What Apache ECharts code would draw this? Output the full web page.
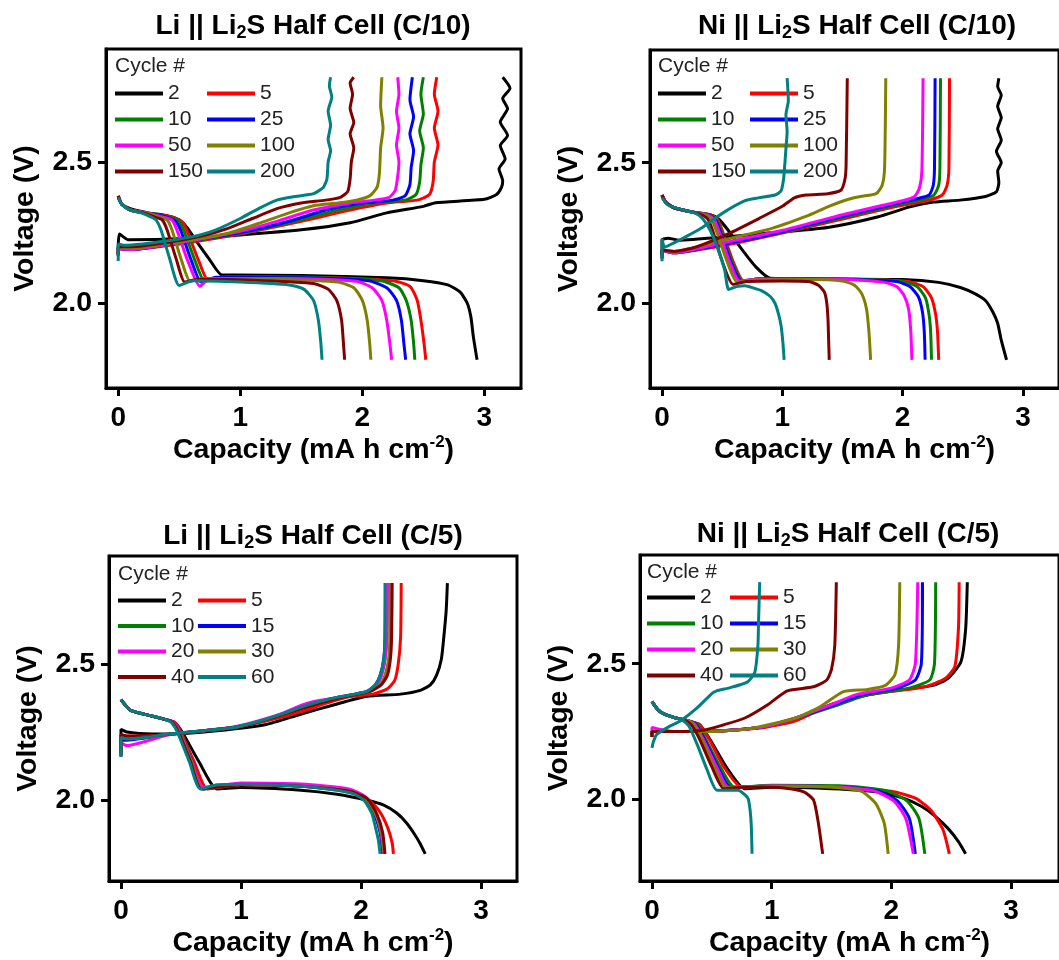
<!DOCTYPE html>
<html>
<head>
<meta charset="utf-8">
<script src="https://cdn.jsdelivr.net/npm/echarts@6/dist/echarts.min.js"></script>
<style>
  html, body { margin: 0; padding: 0; background: #fff; }
  #chart { width: 1059px; height: 960px; }
</style>
</head>
<body>
<div id="chart"></div>
<script>
// cycle colours, same order in every panel
const colors = ['#000000', '#ff0000', '#008000', '#0000ff', '#ff00ff', '#808000', '#800000', '#008080']
const xTicks = [0, 1, 2, 3]
const yTicks = [2.0, 2.5]

const cyclesC10 = ['2', '5', '10', '25', '50', '100', '150', '200']
const cyclesC5 = ['2', '5', '10', '15', '20', '30', '40', '60']

const panelTitles = [
  'Li || Li{sub|2}S Half Cell (C/10)',
  'Ni || Li{sub|2}S Half Cell (C/10)',
  'Li || Li{sub|2}S Half Cell (C/5)',
  'Ni || Li{sub|2}S Half Cell (C/5)'
]

// Li || Li2S, C/10  — [capacity, voltage]
const liC10Discharge = [
  [[0,2.375],[0.03,2.35],[0.1,2.335],[0.25,2.32],[0.4,2.31],[0.5,2.295],[0.56,2.27],[0.64,2.22],[0.74,2.16],[0.85,2.1],[0.95,2.1],[1.5,2.098],[2.2,2.09],[2.5,2.08],[2.7,2.065],[2.8,2.04],[2.86,2.0],[2.89,1.95],[2.91,1.88],[2.94,1.8]],
  [[0,2.38],[0.03,2.35],[0.1,2.33],[0.25,2.318],[0.45,2.305],[0.53,2.285],[0.57,2.25],[0.66,2.15],[0.74,2.08],[0.9,2.093],[1.6,2.092],[2.25,2.08],[2.39,2.06],[2.45,2.01],[2.48,1.94],[2.505,1.86],[2.52,1.8]],
  [[0,2.38],[0.03,2.35],[0.1,2.33],[0.25,2.318],[0.42,2.305],[0.5,2.29],[0.54,2.255],[0.63,2.15],[0.71,2.078],[0.85,2.093],[1.5,2.092],[2.15,2.08],[2.3,2.055],[2.36,2.01],[2.4,1.94],[2.42,1.86],[2.43,1.8]],
  [[0,2.38],[0.03,2.35],[0.1,2.33],[0.25,2.318],[0.4,2.305],[0.47,2.29],[0.51,2.26],[0.6,2.15],[0.68,2.075],[0.8,2.092],[1.5,2.09],[2.05,2.08],[2.2,2.055],[2.28,2.01],[2.32,1.94],[2.34,1.86],[2.355,1.8]],
  [[0,2.38],[0.03,2.35],[0.1,2.33],[0.25,2.318],[0.37,2.305],[0.44,2.295],[0.48,2.26],[0.57,2.15],[0.67,2.06],[0.75,2.088],[1.4,2.088],[1.95,2.078],[2.08,2.055],[2.16,2.01],[2.2,1.94],[2.225,1.86],[2.24,1.8]],
  [[0,2.38],[0.03,2.35],[0.1,2.33],[0.25,2.318],[0.34,2.305],[0.4,2.295],[0.44,2.26],[0.52,2.15],[0.59,2.078],[0.7,2.088],[1.3,2.085],[1.8,2.075],[1.93,2.055],[2.0,2.01],[2.04,1.94],[2.06,1.86],[2.07,1.8]],
  [[0,2.38],[0.03,2.35],[0.1,2.33],[0.22,2.318],[0.3,2.305],[0.36,2.295],[0.4,2.26],[0.48,2.15],[0.545,2.075],[0.65,2.085],[1.2,2.08],[1.6,2.07],[1.72,2.05],[1.79,2.01],[1.83,1.94],[1.845,1.86],[1.855,1.8]],
  [[0,2.375],[0.03,2.35],[0.1,2.33],[0.2,2.318],[0.27,2.305],[0.31,2.295],[0.35,2.26],[0.42,2.16],[0.5,2.063],[0.61,2.08],[1.0,2.075],[1.4,2.065],[1.52,2.05],[1.6,2.01],[1.64,1.94],[1.66,1.86],[1.67,1.8]]
]
const liC10Charge = [
  [[0,2.19],[0.01,2.245],[0.08,2.225],[0.5,2.228],[1.0,2.242],[1.5,2.26],[1.9,2.285],[2.2,2.32],[2.5,2.343],[2.6,2.356],[3.0,2.368],[3.1,2.385],[3.14,2.41],[3.15,2.433],[3.12,2.475],[3.17,2.511],[3.13,2.558],[3.19,2.594],[3.13,2.642],[3.19,2.689],[3.15,2.725],[3.21,2.761],[3.15,2.8]],
  [[0,2.17],[0,2.195],[0.1,2.19],[0.5,2.21],[1.0,2.245],[1.5,2.29],[1.9,2.33],[2.2,2.355],[2.45,2.365],[2.55,2.385],[2.58,2.43],[2.59,2.5],[2.62,2.56],[2.59,2.62],[2.62,2.68],[2.59,2.74],[2.61,2.8]],
  [[0,2.17],[0,2.195],[0.1,2.19],[0.5,2.213],[1.0,2.248],[1.4,2.285],[1.8,2.33],[2.1,2.355],[2.35,2.365],[2.44,2.385],[2.47,2.43],[2.48,2.49],[2.5,2.55],[2.47,2.61],[2.5,2.67],[2.48,2.74],[2.5,2.8]],
  [[0,2.17],[0,2.195],[0.1,2.19],[0.5,2.215],[1.0,2.25],[1.4,2.29],[1.7,2.33],[2.0,2.355],[2.25,2.365],[2.35,2.38],[2.39,2.42],[2.4,2.48],[2.42,2.54],[2.39,2.6],[2.42,2.66],[2.39,2.72],[2.41,2.8]],
  [[0,2.17],[0,2.195],[0.1,2.19],[0.5,2.215],[1.0,2.255],[1.3,2.29],[1.6,2.33],[1.9,2.355],[2.1,2.365],[2.22,2.375],[2.27,2.4],[2.29,2.45],[2.3,2.5],[2.28,2.56],[2.3,2.62],[2.28,2.68],[2.3,2.74],[2.29,2.8]],
  [[0,2.17],[0,2.2],[0.1,2.195],[0.5,2.218],[0.9,2.248],[1.2,2.29],[1.4,2.32],[1.6,2.345],[1.8,2.355],[1.95,2.365],[2.06,2.38],[2.12,2.41],[2.14,2.46],[2.15,2.55],[2.17,2.62],[2.15,2.7],[2.16,2.8]],
  [[0,2.17],[0,2.2],[0.1,2.2],[0.4,2.215],[0.7,2.24],[0.9,2.265],[1.1,2.3],[1.3,2.335],[1.5,2.355],[1.7,2.365],[1.82,2.375],[1.88,2.395],[1.9,2.44],[1.91,2.5],[1.93,2.55],[1.9,2.6],[1.93,2.64],[1.9,2.69],[1.92,2.74],[1.9,2.78],[1.93,2.8]],
  [[0,2.15],[0,2.21],[0.05,2.205],[0.2,2.21],[0.39,2.22],[0.6,2.235],[0.8,2.26],[1.0,2.3],[1.15,2.335],[1.3,2.365],[1.45,2.378],[1.6,2.388],[1.68,2.41],[1.71,2.44],[1.72,2.5],[1.74,2.54],[1.72,2.58],[1.74,2.63],[1.72,2.68],[1.75,2.73],[1.73,2.77],[1.74,2.8]]
]

// Ni || Li2S, C/10
const niC10Discharge = [
  [[0,2.385],[0.03,2.36],[0.1,2.34],[0.25,2.325],[0.4,2.315],[0.47,2.3],[0.55,2.26],[0.65,2.2],[0.78,2.13],[0.9,2.09],[1.2,2.088],[2.0,2.085],[2.3,2.075],[2.48,2.057],[2.6,2.035],[2.69,2.01],[2.75,1.97],[2.79,1.93],[2.82,1.87],[2.864,1.8]],
  [[0,2.385],[0.03,2.36],[0.1,2.34],[0.25,2.325],[0.4,2.315],[0.46,2.3],[0.5,2.26],[0.59,2.15],[0.68,2.08],[0.8,2.087],[1.6,2.086],[2.05,2.078],[2.17,2.06],[2.24,2.02],[2.275,1.96],[2.29,1.9],[2.3,1.8]],
  [[0,2.385],[0.03,2.36],[0.1,2.34],[0.25,2.325],[0.39,2.315],[0.45,2.3],[0.49,2.26],[0.58,2.15],[0.67,2.08],[0.8,2.087],[1.6,2.086],[2.0,2.078],[2.12,2.06],[2.19,2.02],[2.22,1.96],[2.233,1.9],[2.24,1.8]],
  [[0,2.385],[0.03,2.36],[0.1,2.34],[0.25,2.325],[0.38,2.315],[0.44,2.3],[0.48,2.26],[0.57,2.15],[0.66,2.08],[0.8,2.087],[1.5,2.086],[1.95,2.078],[2.06,2.06],[2.13,2.025],[2.165,1.97],[2.18,1.9],[2.187,1.8]],
  [[0,2.385],[0.03,2.36],[0.1,2.34],[0.25,2.325],[0.37,2.315],[0.43,2.3],[0.47,2.26],[0.56,2.15],[0.645,2.08],[0.8,2.086],[1.5,2.085],[1.85,2.075],[1.95,2.06],[2.01,2.03],[2.05,1.98],[2.068,1.9],[2.077,1.8]],
  [[0,2.385],[0.03,2.36],[0.1,2.34],[0.25,2.325],[0.35,2.315],[0.41,2.3],[0.45,2.26],[0.54,2.15],[0.625,2.076],[0.75,2.083],[1.2,2.085],[1.5,2.08],[1.6,2.065],[1.66,2.035],[1.7,1.98],[1.72,1.9],[1.734,1.8]],
  [[0,2.385],[0.03,2.36],[0.1,2.34],[0.25,2.325],[0.33,2.315],[0.38,2.3],[0.42,2.26],[0.5,2.15],[0.59,2.068],[0.7,2.078],[1.0,2.08],[1.22,2.078],[1.3,2.065],[1.35,2.04],[1.37,2.0],[1.38,1.94],[1.385,1.87],[1.39,1.8]],
  [[0,2.375],[0.05,2.35],[0.15,2.335],[0.28,2.32],[0.34,2.3],[0.4,2.26],[0.46,2.2],[0.52,2.12],[0.554,2.05],[0.62,2.06],[0.69,2.063],[0.76,2.055],[0.83,2.045],[0.9,2.025],[0.94,2.0],[0.97,1.96],[0.99,1.92],[1.005,1.86],[1.015,1.8]]
]
const niC10Charge = [
  [[0,2.18],[0,2.225],[0.05,2.232],[0.14,2.225],[0.5,2.235],[0.83,2.248],[1.377,2.27],[1.79,2.307],[2.06,2.343],[2.255,2.36],[2.475,2.367],[2.69,2.38],[2.78,2.397],[2.8,2.43],[2.79,2.47],[2.82,2.5],[2.78,2.54],[2.82,2.58],[2.79,2.62],[2.82,2.66],[2.79,2.7],[2.82,2.74],[2.79,2.77],[2.8,2.8]],
  [[0,2.17],[0,2.19],[0.1,2.18],[0.5,2.205],[1.0,2.25],[1.5,2.3],[1.9,2.34],[2.2,2.365],[2.33,2.385],[2.37,2.42],[2.385,2.48],[2.39,2.8]],
  [[0,2.17],[0,2.19],[0.1,2.18],[0.5,2.21],[1.0,2.253],[1.5,2.305],[1.9,2.345],[2.15,2.368],[2.26,2.385],[2.3,2.42],[2.31,2.48],[2.315,2.8]],
  [[0,2.16],[0,2.19],[0.1,2.18],[0.5,2.21],[1.0,2.255],[1.5,2.31],[1.9,2.35],[2.1,2.37],[2.22,2.385],[2.255,2.42],[2.265,2.48],[2.27,2.8]],
  [[0,2.17],[0,2.19],[0.1,2.18],[0.5,2.215],[1.0,2.26],[1.5,2.315],[1.8,2.345],[2.0,2.365],[2.1,2.38],[2.14,2.41],[2.16,2.47],[2.17,2.8]],
  [[0,2.17],[0,2.19],[0.1,2.185],[0.5,2.225],[0.9,2.265],[1.2,2.31],[1.377,2.343],[1.55,2.37],[1.65,2.38],[1.78,2.39],[1.83,2.42],[1.85,2.48],[1.86,2.8]],
  [[0,2.16],[0,2.19],[0.1,2.185],[0.28,2.2],[0.554,2.248],[0.83,2.307],[1.0,2.345],[1.1,2.375],[1.2,2.385],[1.377,2.39],[1.487,2.402],[1.52,2.44],[1.53,2.49],[1.54,2.8]],
  [[0,2.15],[0,2.23],[0.02,2.2],[0.05,2.205],[0.14,2.224],[0.335,2.27],[0.5,2.32],[0.69,2.365],[0.8,2.375],[0.94,2.385],[0.99,2.4],[1.01,2.44],[1.02,2.49],[1.03,2.55],[1.04,2.61],[1.03,2.67],[1.05,2.72],[1.04,2.8]]
]

// Li || Li2S, C/5
const liC5Discharge = [
  [[0,2.37],[0.08,2.33],[0.25,2.31],[0.38,2.295],[0.45,2.285],[0.51,2.25],[0.65,2.14],[0.8,2.04],[1.0,2.045],[1.5,2.035],[1.8,2.02],[2.05,1.998],[2.19,1.98],[2.3,1.95],[2.38,1.914],[2.45,1.87],[2.49,1.84],[2.535,1.8]],
  [[0,2.37],[0.08,2.33],[0.25,2.31],[0.38,2.295],[0.45,2.285],[0.5,2.25],[0.61,2.14],[0.72,2.04],[1.0,2.055],[1.5,2.05],[1.9,2.03],[2.05,2.005],[2.15,1.96],[2.22,1.9],[2.26,1.84],[2.27,1.8]],
  [[0,2.37],[0.08,2.33],[0.25,2.31],[0.38,2.295],[0.44,2.285],[0.495,2.25],[0.595,2.14],[0.69,2.04],[1.0,2.058],[1.5,2.052],[1.9,2.035],[2.03,2.005],[2.11,1.95],[2.16,1.88],[2.18,1.8]],
  [[0,2.37],[0.08,2.33],[0.25,2.31],[0.38,2.295],[0.44,2.285],[0.49,2.25],[0.59,2.14],[0.68,2.04],[1.0,2.058],[1.5,2.052],[1.9,2.035],[2.03,2.005],[2.11,1.95],[2.16,1.88],[2.185,1.8]],
  [[0,2.37],[0.08,2.33],[0.25,2.31],[0.38,2.295],[0.44,2.285],[0.49,2.25],[0.59,2.14],[0.685,2.045],[1.0,2.062],[1.5,2.058],[1.9,2.04],[2.04,2.01],[2.12,1.95],[2.165,1.88],[2.19,1.8]],
  [[0,2.37],[0.08,2.33],[0.25,2.31],[0.38,2.295],[0.43,2.285],[0.485,2.25],[0.585,2.14],[0.675,2.04],[1.0,2.056],[1.5,2.05],[1.9,2.033],[2.04,2.005],[2.12,1.95],[2.17,1.88],[2.195,1.8]],
  [[0,2.37],[0.08,2.33],[0.25,2.31],[0.38,2.295],[0.43,2.285],[0.48,2.25],[0.58,2.14],[0.67,2.04],[1.0,2.055],[1.5,2.05],[1.9,2.032],[2.05,2.005],[2.13,1.95],[2.18,1.88],[2.2,1.8]],
  [[0,2.37],[0.08,2.33],[0.25,2.31],[0.38,2.295],[0.42,2.285],[0.47,2.25],[0.57,2.14],[0.66,2.04],[0.8,2.055],[1.0,2.057],[1.5,2.05],[1.8,2.035],[1.95,2.02],[2.03,1.995],[2.09,1.95],[2.125,1.89],[2.145,1.85],[2.159,1.8]]
]
const liC5Charge = [
  [[0,2.2],[0,2.26],[0.05,2.25],[0.15,2.245],[0.4,2.243],[0.8,2.255],[1.21,2.278],[1.49,2.315],[1.77,2.35],[2.05,2.382],[2.33,2.39],[2.5,2.405],[2.58,2.425],[2.63,2.46],[2.67,2.52],[2.69,2.6],[2.71,2.7],[2.72,2.8]],
  [[0,2.17],[0,2.24],[0.05,2.235],[0.2,2.235],[0.4,2.242],[0.7,2.255],[0.95,2.268],[1.2,2.29],[1.5,2.325],[1.7,2.355],[1.9,2.38],[2.1,2.39],[2.22,2.41],[2.28,2.44],[2.31,2.5],[2.33,2.6],[2.335,2.8]],
  [[0,2.16],[0,2.23],[0.05,2.225],[0.2,2.23],[0.4,2.242],[0.7,2.255],[0.95,2.268],[1.15,2.288],[1.35,2.315],[1.5,2.34],[1.63,2.36],[1.8,2.377],[1.95,2.39],[2.05,2.4],[2.13,2.425],[2.17,2.46],[2.2,2.52],[2.215,2.6],[2.22,2.8]],
  [[0,2.16],[0,2.22],[0.05,2.22],[0.2,2.228],[0.4,2.242],[0.7,2.255],[0.95,2.268],[1.15,2.288],[1.35,2.315],[1.5,2.34],[1.63,2.36],[1.8,2.377],[1.95,2.39],[2.05,2.4],[2.12,2.425],[2.16,2.46],[2.19,2.52],[2.2,2.6],[2.205,2.8]],
  [[0,2.2],[0,2.21],[0.05,2.2],[0.2,2.215],[0.4,2.24],[0.7,2.256],[0.95,2.27],[1.15,2.292],[1.35,2.32],[1.5,2.348],[1.6,2.362],[1.8,2.378],[1.95,2.39],[2.05,2.4],[2.13,2.425],[2.17,2.46],[2.2,2.52],[2.215,2.6],[2.22,2.8]],
  [[0,2.17],[0,2.23],[0.05,2.225],[0.2,2.23],[0.4,2.242],[0.7,2.255],[0.95,2.268],[1.15,2.288],[1.35,2.315],[1.5,2.338],[1.65,2.358],[1.8,2.375],[1.95,2.388],[2.07,2.4],[2.16,2.425],[2.2,2.46],[2.23,2.52],[2.24,2.6],[2.245,2.8]],
  [[0,2.17],[0,2.24],[0.05,2.235],[0.2,2.232],[0.4,2.242],[0.7,2.255],[0.95,2.268],[1.15,2.288],[1.35,2.315],[1.5,2.336],[1.65,2.356],[1.8,2.374],[1.95,2.388],[2.08,2.4],[2.17,2.425],[2.22,2.46],[2.245,2.52],[2.255,2.6],[2.26,2.8]],
  [[0,2.16],[0,2.23],[0.05,2.225],[0.2,2.23],[0.4,2.243],[0.7,2.256],[0.95,2.268],[1.15,2.29],[1.35,2.318],[1.5,2.342],[1.63,2.36],[1.8,2.378],[1.95,2.39],[2.05,2.4],[2.12,2.425],[2.16,2.46],[2.19,2.52],[2.2,2.6],[2.2,2.8]]
]

// Ni || Li2S, C/5
const niC5Discharge = [
  [[0,2.36],[0.05,2.33],[0.1,2.315],[0.2,2.3],[0.3,2.29],[0.4,2.275],[0.5,2.21],[0.62,2.12],[0.776,2.04],[1.0,2.045],[1.5,2.04],[1.9,2.028],[2.1,2.005],[2.25,1.975],[2.37,1.937],[2.48,1.89],[2.56,1.845],[2.62,1.8]],
  [[0,2.36],[0.05,2.33],[0.1,2.315],[0.2,2.3],[0.3,2.29],[0.4,2.275],[0.48,2.22],[0.6,2.12],[0.75,2.045],[1.0,2.05],[1.6,2.047],[2.0,2.03],[2.2,2.005],[2.33,1.96],[2.43,1.89],[2.484,1.8]],
  [[0,2.36],[0.05,2.33],[0.1,2.315],[0.2,2.3],[0.3,2.29],[0.38,2.275],[0.45,2.22],[0.57,2.12],[0.69,2.045],[1.0,2.052],[1.6,2.05],[1.95,2.033],[2.13,1.995],[2.23,1.93],[2.279,1.8]],
  [[0,2.36],[0.05,2.33],[0.1,2.315],[0.2,2.3],[0.3,2.29],[0.37,2.275],[0.44,2.22],[0.55,2.12],[0.66,2.045],[1.0,2.05],[1.5,2.048],[1.88,2.032],[2.05,1.995],[2.15,1.93],[2.2,1.8]],
  [[0,2.36],[0.05,2.33],[0.1,2.315],[0.2,2.3],[0.3,2.29],[0.36,2.275],[0.43,2.22],[0.54,2.12],[0.64,2.045],[1.0,2.05],[1.5,2.048],[1.85,2.032],[2.02,1.995],[2.12,1.93],[2.183,1.8]],
  [[0,2.36],[0.05,2.33],[0.1,2.315],[0.2,2.3],[0.3,2.29],[0.35,2.275],[0.42,2.22],[0.52,2.12],[0.62,2.045],[1.0,2.05],[1.5,2.045],[1.75,2.03],[1.87,1.985],[1.94,1.913],[1.973,1.8]],
  [[0,2.36],[0.05,2.33],[0.1,2.315],[0.2,2.3],[0.28,2.29],[0.33,2.275],[0.4,2.22],[0.5,2.12],[0.6,2.04],[0.75,2.045],[0.913,2.046],[1.1,2.042],[1.268,2.028],[1.35,1.998],[1.39,1.913],[1.426,1.8]],
  [[0,2.36],[0.05,2.33],[0.1,2.315],[0.2,2.3],[0.26,2.29],[0.31,2.27],[0.38,2.2],[0.46,2.11],[0.544,2.034],[0.72,2.034],[0.77,2.02],[0.803,2.004],[0.82,1.96],[0.83,1.9],[0.836,1.8]]
]
const niC5Charge = [
  [[0,2.23],[0,2.25],[0.2,2.25],[0.43,2.25],[0.9,2.265],[1.2,2.295],[1.5,2.35],[1.8,2.385],[2.1,2.405],[2.35,2.42],[2.47,2.445],[2.58,2.506],[2.62,2.627],[2.634,2.8]],
  [[0,2.23],[0,2.25],[0.2,2.25],[0.43,2.25],[0.9,2.263],[1.2,2.29],[1.5,2.35],[1.8,2.385],[2.0,2.398],[2.28,2.415],[2.45,2.445],[2.53,2.49],[2.56,2.63],[2.566,2.8]],
  [[0,2.23],[0,2.25],[0.2,2.25],[0.43,2.25],[0.9,2.265],[1.2,2.298],[1.5,2.34],[1.8,2.385],[2.15,2.41],[2.32,2.44],[2.36,2.5],[2.37,2.8]],
  [[0,2.24],[0,2.25],[0.2,2.25],[0.43,2.25],[0.9,2.265],[1.2,2.3],[1.5,2.345],[1.75,2.385],[2.05,2.41],[2.2,2.44],[2.25,2.5],[2.26,2.8]],
  [[0,2.25],[0,2.265],[0.05,2.26],[0.2,2.25],[0.43,2.25],[0.9,2.265],[1.2,2.3],[1.5,2.35],[1.7,2.385],[2.0,2.41],[2.15,2.44],[2.2,2.5],[2.22,2.8]],
  [[0,2.23],[0,2.25],[0.2,2.25],[0.43,2.25],[0.8,2.26],[1.2,2.3],[1.4,2.34],[1.6,2.397],[1.8,2.405],[1.95,2.42],[2.03,2.46],[2.06,2.567],[2.07,2.8]],
  [[0,2.23],[0,2.25],[0.2,2.25],[0.43,2.255],[0.6,2.275],[0.776,2.3],[0.967,2.349],[1.13,2.4],[1.35,2.415],[1.46,2.44],[1.5,2.48],[1.527,2.567],[1.54,2.8]],
  [[0,2.19],[0.01,2.21],[0.04,2.24],[0.15,2.27],[0.24,2.29],[0.377,2.337],[0.5,2.39],[0.54,2.4],[0.64,2.41],[0.8,2.433],[0.86,2.47],[0.885,2.567],[0.89,2.65],[0.9,2.8]]
]

const panels = [
  { cycles: cyclesC10, discharge: liC10Discharge, charge: liC10Charge },
  { cycles: cyclesC10, discharge: niC10Discharge, charge: niC10Charge },
  { cycles: cyclesC5, discharge: liC5Discharge, charge: liC5Charge },
  { cycles: cyclesC5, discharge: niC5Discharge, charge: niC5Charge }
]

// pixel layout of each panel (right-hand panels run off the page, like the source)
const layout = [
  { grid: { left: 106, top: 49, width: 415, height: 339 }, xMax: 3.3, titleX: 313, titleY: 10, cycleY: 56, legendX: [115, 207], legendY: 83, gap: 5 },
  { grid: { left: 650, top: 50, width: 415, height: 338 }, xMax: 3.3, titleX: 857, titleY: 10, cycleY: 56, legendX: [658, 750], legendY: 83, gap: 5 },
  { grid: { left: 109, top: 556, width: 408, height: 331 }, xMax: 3.3, titleX: 313, titleY: 520, cycleY: 564, legendX: [118, 198], legendY: 590, gap: 4.5 },
  { grid: { left: 640, top: 555, width: 427, height: 332 }, xMax: 3.4, titleX: 848, titleY: 518, cycleY: 562, legendX: [647, 730], legendY: 587, gap: 5 }
]

const font = 'Liberation Sans, Arial, Helvetica, sans-serif'
const boldText = { fontFamily: font, fontWeight: 'bold', color: '#000' }
const axisLine = { show: true, onZero: false, lineStyle: { width: 3, color: '#000' } }

const series = []
panels.forEach((p, i) => {
  p.cycles.forEach((c, k) => {
    [p.discharge[k], p.charge[k]].forEach(data => {
      series.push({
        name: i + ':' + c,
        type: 'line',
        xAxisIndex: i,
        yAxisIndex: i,
        data,
        symbol: 'none',
        smooth: 0.2,
        color: colors[k],
        lineStyle: { width: 3, color: colors[k] },
        z: 2 + k
      })
    })
  })
})

const chart = echarts.init(document.getElementById('chart'))
chart.setOption({
  animation: false,
  backgroundColor: '#fff',
  textStyle: { fontFamily: font },
  title: [
    ...layout.map((l, i) => ({
      text: panelTitles[i],
      left: l.titleX,
      top: l.titleY,
      textAlign: 'center',
      padding: 0,
      textStyle: {
        ...boldText, fontSize: 28, lineHeight: 32,
        rich: { sub: { ...boldText, fontSize: 18, lineHeight: 14, verticalAlign: 'bottom' } }
      }
    })),
    ...layout.map(l => ({
      text: 'Cycle #',
      left: l.legendX[0],
      top: l.cycleY,
      padding: 0,
      textStyle: { fontFamily: font, fontWeight: 'normal', fontSize: 21, color: '#222' }
    }))
  ],
  legend: layout.flatMap((l, i) => [0, 1].map(col => ({
    left: l.legendX[col],
    top: l.legendY,
    orient: 'vertical',
    padding: 0,
    icon: 'rect',
    itemWidth: 48,
    itemHeight: 4,
    itemGap: l.gap,
    selectedMode: false,
    data: panels[i].cycles.filter((_, k) => k % 2 === col).map(c => i + ':' + c),
    formatter: n => n.split(':')[1],
    textStyle: { fontFamily: font, fontSize: 21, lineHeight: 20, color: '#222' }
  }))),
  grid: layout.map(l => ({
    ...l.grid, show: true, borderColor: '#000', borderWidth: 3, backgroundColor: 'transparent'
  })),
  xAxis: layout.map((l, i) => ({
    type: 'value',
    gridIndex: i,
    min: -0.1,
    max: l.xMax,
    name: 'Capacity (mA h cm{sup|-2})',
    nameLocation: 'middle',
    nameGap: 46,
    nameTextStyle: {
      ...boldText, fontSize: 28.5, lineHeight: 32,
      rich: { sup: { ...boldText, fontSize: 17, lineHeight: 17, verticalAlign: 'top' } }
    },
    axisLine,
    axisTick: { show: true, inside: false, customValues: xTicks, length: 8, lineStyle: { width: 3, color: '#000' } },
    axisLabel: { customValues: xTicks, ...boldText, fontSize: 28, margin: 16 },
    splitLine: { show: false }
  })),
  yAxis: layout.map((l, i) => ({
    type: 'value',
    gridIndex: i,
    min: 1.7,
    max: 2.9,
    name: 'Voltage (V)',
    nameLocation: 'middle',
    nameGap: 66,
    nameTextStyle: { ...boldText, fontSize: 28.5 },
    axisLine,
    axisTick: { show: true, inside: false, customValues: yTicks, length: 8, lineStyle: { width: 3, color: '#000' } },
    axisLabel: { customValues: yTicks, ...boldText, fontSize: 28.5, margin: 14, formatter: v => v.toFixed(1) },
    splitLine: { show: false }
  })),
  series
})
</script>
</body>
</html>
